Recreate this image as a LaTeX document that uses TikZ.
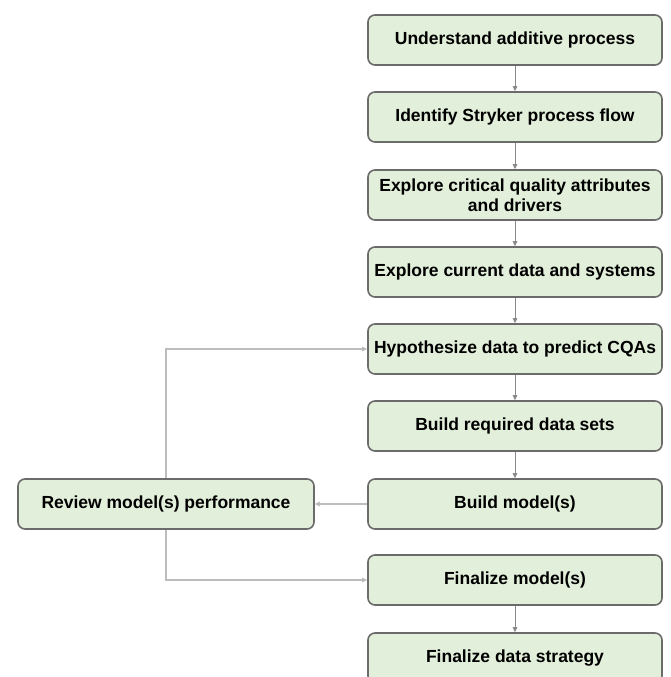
\documentclass[tikz,border=0pt]{standalone}
\usepackage{fontspec}
\setmainfont{Liberation Sans}
\usetikzlibrary{arrows.meta}
\definecolor{verde}{HTML}{E2EFDA}
\definecolor{borde}{HTML}{6B6B6B}
\definecolor{flecha}{HTML}{8A8A8A}
\definecolor{retro}{HTML}{BDBDBD}
\begin{document}
\begin{tikzpicture}[x=1pt, y=-1pt,
				paso/.style={rectangle, rounded corners=7pt, draw=borde, line width=1.6pt, fill=verde,
					minimum width=294pt, minimum height=50pt, align=center, inner sep=2pt,
					font=\bfseries\fontsize{17.5}{20}\selectfont},
				flujo/.style={draw=flecha, line width=0.9pt, -{Triangle[length=5pt, width=4.5pt]}},
				vuelta/.style={draw=retro, line width=1.1pt, -{Triangle[length=5pt, width=4.5pt, fill=flecha]}}]
				\clip (0,0) rectangle (670,677);
				\useasboundingbox (0,0) rectangle (670,677);
				\node[paso] (p1) at (515, 40)  {Understand additive process};
				\node[paso] (p2) at (515,117)  {Identify Stryker process flow};
				\node[paso] (p3) at (515,195)  {Explore critical quality attributes\\and drivers};
				\node[paso] (p4) at (515,272)  {Explore current data and systems};
				\node[paso] (p5) at (515,349)  {Hypothesize data to predict CQAs};
				\node[paso] (p6) at (515,426)  {Build required data sets};
				\node[paso] (p7) at (515,504)  {Build model(s)};
				\node[paso] (p8) at (515,580)  {Finalize model(s)};
				\node[paso] (p9) at (515,658)  {Finalize data strategy};
				\node[paso, minimum width=296pt] (rev) at (166,504) {Review model(s) performance};
				\draw[flujo] (p1) -- (p2);
				\draw[flujo] (p2) -- (p3);
				\draw[flujo] (p3) -- (p4);
				\draw[flujo] (p4) -- (p5);
				\draw[flujo] (p5) -- (p6);
				\draw[flujo] (p6) -- (p7);
				\draw[flujo] (p8) -- (p9);
				\draw[vuelta] (p7) -- (rev);
				\draw[vuelta] (rev.north) |- (p5.west);
				\draw[vuelta] (rev.south) |- (p8.west);
			\end{tikzpicture}
\end{document}
